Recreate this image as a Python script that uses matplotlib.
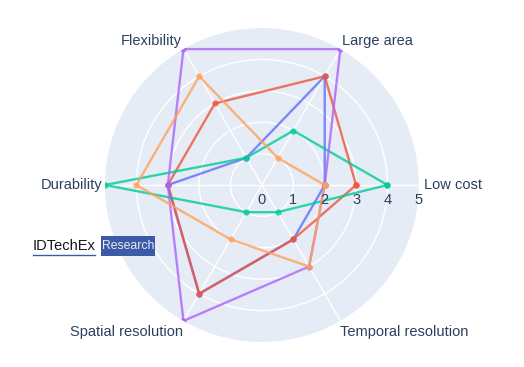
import numpy as np
import matplotlib.pyplot as plt
from matplotlib.patches import Rectangle
from matplotlib.lines import Line2D

# categories around the radar, counter-clockwise from 0 degrees
categories = ['Low cost', 'Large area', 'Flexibility', 'Durability',
              'Spatial resolution', 'Temporal resolution']

# one score list per technology (same order as categories)
blue_vals = [2, 4, 1, 3, 4, 2]
red_vals = [3, 4, 3, 3, 4, 2]
green_vals = [4, 2, 1, 5, 1, 1]
purple_vals = [2, 5, 5, 3, 5, 3]
orange_vals = [2, 1, 4, 4, 2, 3]

series = [
    (blue_vals, '#636efa'),
    (red_vals, '#EF553B'),
    (green_vals, '#00cc96'),
    (purple_vals, '#ab63fa'),
    (orange_vals, '#FFA15A'),
]

radial_ticks = [0, 1, 2, 3, 4, 5]

plt.rcParams['font.family'] = ['Liberation Sans', 'DejaVu Sans']
text_col = '#2a3f5f'

fig = plt.figure(figsize=(5.24, 3.67), dpi=100)
ax = fig.add_axes([0.2004, 0.0681, 0.599, 0.8556], projection='polar')
ax.set_facecolor('#E5ECF6')

angles = np.arange(len(categories)) * 2 * np.pi / len(categories)

for vals, col in series:
    th = np.append(angles, angles[0])
    rr = np.append(vals, vals[0])
    ax.plot(th, rr, color=col, lw=1.7, alpha=0.8, marker='o', ms=4.5,
            markeredgewidth=0)

ax.set_ylim(0, 5)
ax.set_yticks(radial_ticks[1:-1])
ax.set_yticklabels([])
ax.set_xticks(angles)
ax.set_xticklabels([])
ax.grid(True, color='white', lw=1.0)
ax.spines['polar'].set_visible(False)
ax.tick_params(length=0)

# angular labels
label_pos = [
    ('left', 'center', (4, 0)),
    ('left', 'bottom', (1, 1)),
    ('right', 'bottom', (-1, 1)),
    ('right', 'center', (-2, 0)),
    ('right', 'top', (0, -3)),
    ('left', 'top', (0, -3)),
]
for ang, lab, (ha, va, off) in zip(angles, categories, label_pos):
    ax.annotate(lab, xy=(ang, 5), xytext=off, textcoords='offset points',
                ha=ha, va=va, fontsize=10.5, color=text_col,
                annotation_clip=False)

# radial tick labels along the 0 degree axis
for r in radial_ticks:
    ax.annotate(str(r), xy=(0, r), xytext=(0, -6), textcoords='offset points',
                ha='center', va='top', fontsize=10.5, color=text_col,
                annotation_clip=False)

# IDTechEx logo
W, H = 524, 367
fig.text(33 / W, 1 - 246 / H, 'IDTechEx', fontsize=10.5, color='#15151f',
         ha='left', va='center')
fig.add_artist(Line2D([33 / W, 95 / W], [1 - 255 / H, 1 - 255 / H],
                      color='#3c5aa6', lw=1.0))
fig.add_artist(Rectangle((101 / W, 1 - 256 / H), 54 / W, 20 / H,
                         transform=fig.transFigure, color='#3c5aa6', lw=0))
fig.text(128 / W, 1 - 246 / H, 'Research', fontsize=8.8, color='#e8ecf6',
         ha='center', va='center')

fig.savefig('out.png', dpi=100)
